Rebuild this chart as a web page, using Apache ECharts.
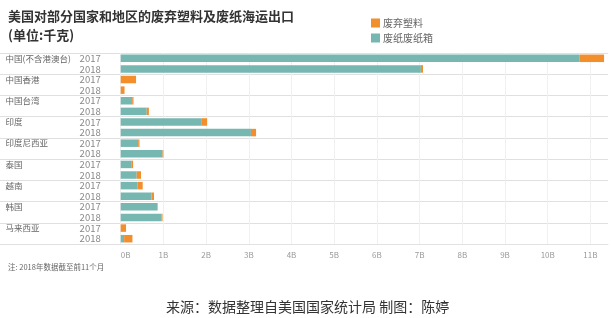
<!DOCTYPE html>
<html><head><meta charset="utf-8">
<script src="https://cdn.jsdelivr.net/npm/echarts@6/dist/echarts.min.js"></script>
<style>html,body{margin:0;padding:0;background:#fff}#c{width:611px;height:318px}</style>
</head><body><div id="c"></div>
<script>
const countries = ['中国(不含港澳台)','中国香港','中国台湾','印度','印度尼西亚','泰国','越南','韩国','马来西亚'];
const years = ['2017','2018'];
// values in billions (B)
const paperValues   = [10.74, 7.03, 0, 0, 0.27, 0.61, 1.90, 3.05, 0.41, 0.98, 0.26, 0.375, 0.39, 0.72, 0.85, 0.96, 0, 0.08];
const plasticValues = [0.58, 0.05, 0.36, 0.09, 0.03, 0.05, 0.125, 0.12, 0.03, 0.02, 0.03, 0.10, 0.125, 0.06, 0.015, 0.02, 0.125, 0.195];
const xTicks = [0,1,2,3,4,5,6,7,8,9,10,11];
const seriesNames = ['废纸废纸箱','废弃塑料'];

const rows = [];
countries.forEach(c => years.forEach((y, j) => rows.push({country: j === 0 ? c : '', year: y})));
const cats = rows.map((r, i) => 'r' + i);

const font = '"Noto Sans CJK SC", "Noto Sans", sans-serif';
const chart = echarts.init(document.getElementById('c'));
chart.setOption({
  animation: false,
  textStyle: {fontFamily: font},
  title: [
    {text: '美国对部分国家和地区的废弃塑料及废纸海运出口', left: 3, top: 5,
     textStyle: {fontSize: 13, fontWeight: 'bold', color: '#333', fontFamily: font}},
    {text: '(单位:千克)', left: 3, top: 24,
     textStyle: {fontSize: 13, fontWeight: 'bold', color: '#333', fontFamily: font}},
    {text: '注: 2018年数据截至前11个月', left: 3, top: 258,
     textStyle: {fontSize: 7.5, fontWeight: 'normal', color: '#666', fontFamily: font}},
    {text: '来源：数据整理自美国国家统计局 制图：陈婷', left: 161, top: 295,
     textStyle: {fontSize: 14, fontWeight: 'normal', color: '#333', fontFamily: font}}
  ],
  legend: {
    data: ['废弃塑料','废纸废纸箱'], orient: 'vertical', left: 366, top: 13,
    itemWidth: 9, itemHeight: 9, itemGap: 5, icon: 'rect',
    textStyle: {fontSize: 10, color: '#666', fontFamily: font, padding: [0,0,0,-2]}
  },
  grid: [
    {left: 120.7, right: 3, top: 53, bottom: 74},
    {left: 0, right: 3, top: 53, bottom: 74}
  ],
  xAxis: [
    {type: 'value', gridIndex: 0, min: 0, max: (608 - 120.7) / 42.7, interval: 1,
     axisLine: {show: true, lineStyle: {color: '#e2e2e2'}}, axisTick: {show: false},
     splitLine: {show: true, showMaxLine: false, lineStyle: {color: '#f0f0f0', width: 1}},
     axisLabel: {fontSize: 8, color: '#999', margin: 7, showMaxLabel: false, alignMinLabel: 'left',
       formatter: v => (xTicks.indexOf(v) >= 0 ? v + 'B' : '')}},
    {type: 'value', gridIndex: 1, min: 0, max: 1, show: false}
  ],
  yAxis: [
    {type: 'category', gridIndex: 0, data: cats, inverse: true,
     axisLine: {show: false}, axisTick: {show: false}, splitLine: {show: false},
     axisLabel: {interval: 0, margin: 20, formatter: (v, i) => '{c|' + rows[i].country + '}{y|' + rows[i].year + '}',
       rich: {c: {width: 74, align: 'left', fontSize: 8.5, color: '#666', fontFamily: font},
              y: {fontSize: 9.5, color: '#888', fontFamily: font}}}},
    {type: 'category', gridIndex: 1, data: cats, inverse: true,
     axisLine: {show: false}, axisTick: {show: false}, axisLabel: {show: false},
     splitLine: {show: true, interval: (i) => i % 2 === 0, lineStyle: {color: '#e0e0e0', width: 1.2}}}
  ],
  series: [
    {name: seriesNames[0], type: 'bar', stack: 's', xAxisIndex: 0, yAxisIndex: 0,
     barWidth: 7.5, data: paperValues, itemStyle: {color: '#76b7b2'}, z: 3},
    {name: seriesNames[1], type: 'bar', stack: 's', xAxisIndex: 0, yAxisIndex: 0,
     barWidth: 7.5, data: plasticValues, itemStyle: {color: '#f28e2b'}, z: 3}
  ]
});
</script></body></html>
